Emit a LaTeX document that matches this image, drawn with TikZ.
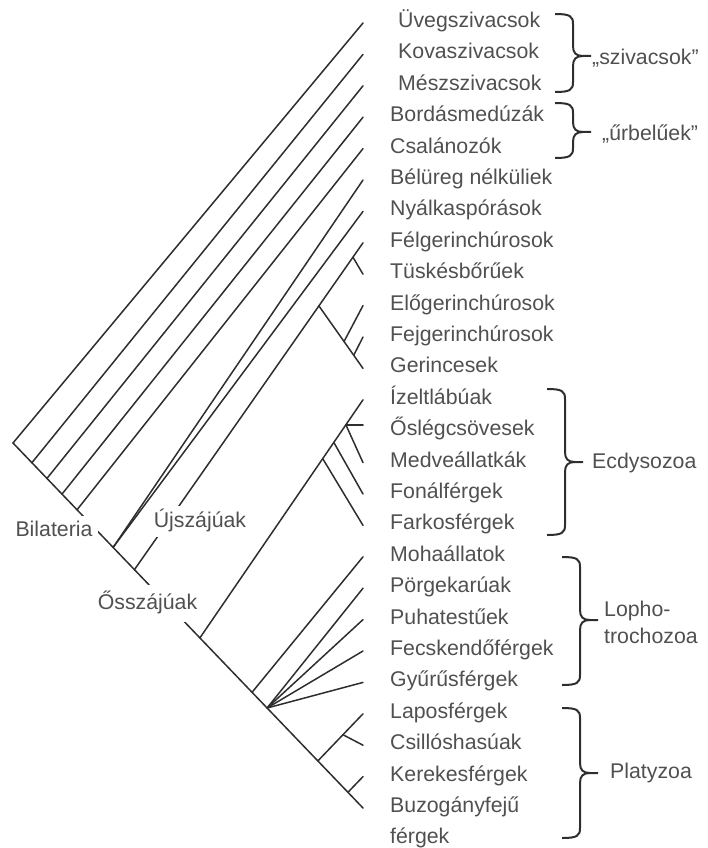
\documentclass[tikz,border=0pt]{standalone}
\usepackage{fontspec}
\setmainfont{Liberation Sans}
\usetikzlibrary{calc,positioning}

\definecolor{vonal}{HTML}{2E2E2E}
\definecolor{betu}{HTML}{505050}
\newcommand{\betumeret}{\fontsize{21.3}{30}\selectfont}
\newcommand{\kapocs}[4]{%
  \draw[kapcsos] (#1-18,#2) .. controls (#1-3,#2) and (#1,#2+2) .. (#1,#2+10)
    -- (#1,#4-10) .. controls (#1,#4-3) and (#1+3,#4) .. (#1+10,#4) -- (#1+18,#4)
    (#1+10,#4) .. controls (#1+3,#4) and (#1,#4+3) .. (#1,#4+10)
    -- (#1,#3-10) .. controls (#1,#3-2) and (#1-3,#3) .. (#1-18,#3);}

\begin{document}
\begin{tikzpicture}[x=1pt, y=-1pt,
  ag/.style={draw=vonal, line width=1.5pt, line cap=round},
  kapcsos/.style={draw=vonal, line width=2pt},
  taxon/.style={anchor=west, inner sep=0pt, text=betu, font=\betumeret, text height=15pt, text depth=4pt},
  csoport/.style={anchor=west, inner sep=0pt, text=betu, font=\betumeret},
  klad/.style={fill=white, inner sep=6pt, text=betu, font=\betumeret, text height=15pt, text depth=4pt}
]
  \useasboundingbox (0,0) rectangle (708,848);

  \foreach \nev [count=\i from 0] in {Üvegszivacsok, Kovaszivacsok, Mészszivacsok, Bordásmedúzák,
      Csalánozók, Bélüreg nélküliek, Nyálkaspórások, Félgerinchúrosok, Tüskésbőrűek,
      Előgerinchúrosok, Fejgerinchúrosok, Gerincesek, Ízeltlábúak, Őslégcsövesek,
      Medveállatkák, Fonálférgek, Farkosférgek, Mohaállatok, Pörgekarúak, Puhatestűek,
      Fecskendőférgek, Gyűrűsférgek, Laposférgek, Csillóshasúak, Kerekesférgek, Buzogányfejű} {
    \pgfmathsetmacro{\sor}{22+31.4*\i}
    \pgfmathsetmacro{\bal}{ifthenelse(\i<3,398,390)}
    \coordinate (v\i) at (363,\sor+1);
    \node[taxon] (t\i) at (\bal,\sor) {\nev};
  }
  \node[taxon, below=30.5pt of t25.west, anchor=west] (t25b) {férgek};

  \coordinate (gyoker) at (13,443);
  \coordinate (n1) at ($(gyoker)!0.054!(v25)$);
  \coordinate (n2) at ($(gyoker)!0.097!(v25)$);
  \coordinate (n3) at ($(gyoker)!0.14!(v25)$);
  \coordinate (n4) at ($(gyoker)!0.183!(v25)$);
  \coordinate (bil) at ($(gyoker)!0.286!(v25)$);
  \coordinate (ujsz) at ($(gyoker)!0.347!(v25)$);
  \coordinate (ecd) at ($(gyoker)!0.534!(v25)$);
  \coordinate (moha) at ($(gyoker)!0.683!(v25)$);
  \coordinate (lof) at ($(gyoker)!0.726!(v25)$);
  \coordinate (plat) at ($(gyoker)!0.871!(v25)$);
  \coordinate (ker) at ($(gyoker)!0.957!(v25)$);
  \coordinate (deut) at ($(ujsz)!0.807!(v7)$);
  \coordinate (amb) at ($(ujsz)!0.956!(v7)$);
  \coordinate (chor1) at ($(deut)!0.57!(v11)$);
  \coordinate (chor2) at ($(deut)!0.79!(v11)$);
  \coordinate (far) at ($(ecd)!0.753!(v12)$);
  \coordinate (fon) at ($(ecd)!0.821!(v12)$);
  \coordinate (pan) at ($(ecd)!0.895!(v12)$);
  \coordinate (csil) at ($(plat)!0.556!(v22)$);

  \draw[ag] (gyoker) -- (v0);
  \draw[ag] (gyoker) -- (v25);
  \draw[ag] (n1) -- (v1);
  \draw[ag] (n2) -- (v2);
  \draw[ag] (n3) -- (v3);
  \draw[ag] (n4) -- (v4);
  \draw[ag] (bil) -- (v5);
  \draw[ag] (bil) -- (v6);
  \draw[ag] (ujsz) -- (v7);
  \draw[ag] (amb) -- (v8);
  \draw[ag] (deut) -- (v11);
  \draw[ag] (chor1) -- (v9);
  \draw[ag] (chor2) -- (v10);
  \draw[ag] (ecd) -- (v12);
  \draw[ag] (pan) -- (pan -| v13);
  \draw[ag] (pan) -- (v14);
  \draw[ag] (fon) -- (v15);
  \draw[ag] (far) -- (v16);
  \draw[ag] (moha) -- (v17);
  \foreach \i in {18,...,21}
    \draw[ag] (lof) -- (v\i);
  \draw[ag] (plat) -- (v22);
  \draw[ag] (csil) -- (v23);
  \draw[ag] (ker) -- (v24);

  \node[klad] (bilat) at (54,531) {Bilateria};
  \node[klad] (ujszaj) at (200,521.5) {Újszájúak};
  \node[klad, inner ysep=9pt] (osszaj) at (147.5,603.5) {Ősszájúak};

  \kapocs{573}{14}{92}{56}
  \kapocs{573}{103}{158}{132}
  \kapocs{565}{389}{535}{462}
  \kapocs{580}{557}{685}{620}
  \kapocs{580}{708}{838}{773}

  \node[csoport] (szivacs) at (592,58) {„szivacsok”};
  \node[csoport] (urbel) at (602,134) {„űrbelűek”};
  \node[csoport] (ecdy) at (592,463) {Ecdysozoa};
  \node[csoport, align=left, font=\fontsize{21.3}{27}\selectfont] (lopho) at (604,622) {Lopho-\\trochozoa};
  \node[csoport] (platy) at (610,773) {Platyzoa};
\end{tikzpicture}
\end{document}
